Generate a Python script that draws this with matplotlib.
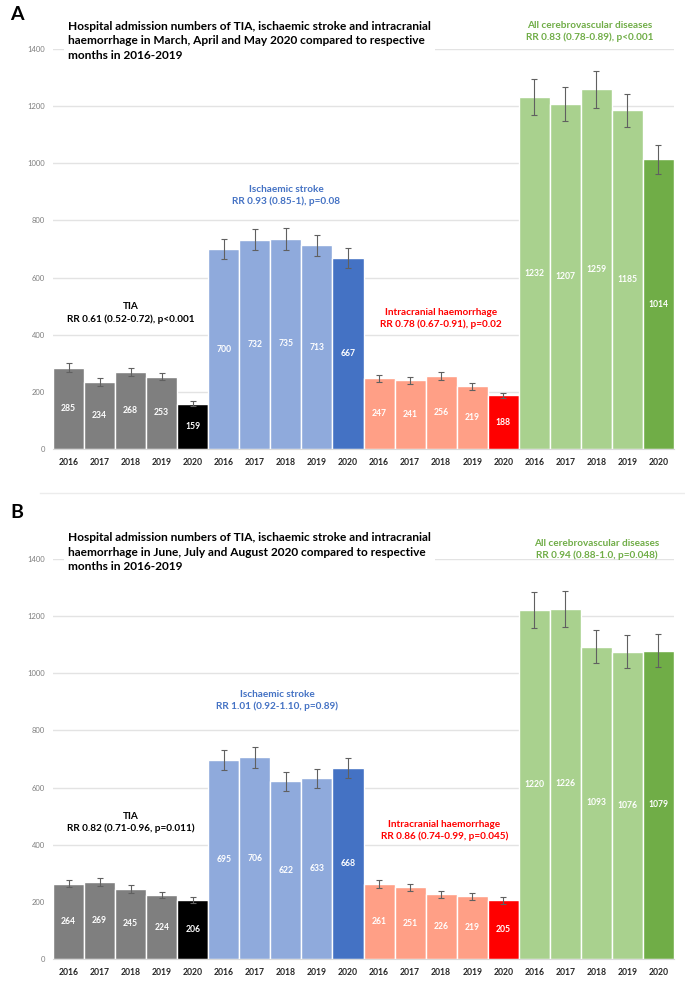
"""Hospital admissions for TIA, ischaemic stroke and intracranial haemorrhage, 2016-2020."""

import matplotlib.pyplot as plt
import numpy as np

plt.rcParams["font.family"] = ["Lato", "DejaVu Sans"]

YEARS = ["2016", "2017", "2018", "2019", "2020"]

# Panel A: March-May
A_TIA = [285, 234, 268, 253, 159]
A_TIA_ERR = [15, 13, 14, 12, 8]
A_ISCH = [700, 732, 735, 713, 667]
A_ISCH_ERR = [35, 37, 37, 37, 35]
A_ICH = [247, 241, 256, 219, 188]
A_ICH_ERR = [12, 12, 13, 12, 9]
A_ALL = [1232, 1207, 1259, 1185, 1014]
A_ALL_ERR = [63, 60, 64, 59, 50]

# Panel B: June-August
B_TIA = [264, 269, 245, 224, 206]
B_TIA_ERR = [13, 14, 13, 12, 11]
B_ISCH = [695, 706, 622, 633, 668]
B_ISCH_ERR = [35, 37, 33, 33, 34]
B_ICH = [261, 251, 226, 219, 205]
B_ICH_ERR = [14, 12, 13, 12, 11]
B_ALL = [1220, 1226, 1093, 1076, 1079]
B_ALL_ERR = [63, 63, 58, 57, 57]

A_TITLE = ("Hospital admission numbers of TIA, ischaemic stroke and intracranial\n"
           "haemorrhage in March, April and May 2020 compared to respective\n"
           "months in 2016-2019")
B_TITLE = ("Hospital admission numbers of TIA, ischaemic stroke and intracranial\n"
           "haemorrhage in June, July and August 2020 compared to respective\n"
           "months in 2016-2019")
A_RR = ["RR 0.61 (0.52-0.72), p<0.001", "RR 0.93 (0.85-1), p=0.08",
        "RR 0.78 (0.67-0.91), p=0.02", "RR 0.83 (0.78-0.89), p<0.001"]
B_RR = ["RR 0.82 (0.71-0.96, p=0.011)", "RR 1.01 (0.92-1.10, p=0.89)",
        "RR 0.86 (0.74-0.99, p=0.045)", "RR 0.94 (0.88-1.0, p=0.048)"]
GROUPS = ["TIA", "Ischaemic stroke", "Intracranial haemorrhage",
          "All cerebrovascular diseases"]

LIGHT = ["#7f7f7f", "#8faadc", "#ff9f86", "#a9d18e"]
DARK = ["#000000", "#4472c4", "#ff0000", "#70ad47"]
TEXT_COLORS = ["#000000", "#4472c4", "#ff0000", "#70ad47"]

def draw_panel(ax, series, errors, rr_labels, label_pos):
    values = np.concatenate(series)
    errs = np.concatenate(errors)
    colors = []
    for light, dark in zip(LIGHT, DARK):
        colors += [light] * 4 + [dark]
    x = np.arange(len(values))

    ax.set_axisbelow(True)
    ax.yaxis.grid(True, color="#e3e3e3", linewidth=1)
    ax.bar(x, values, width=1.0, color=colors, edgecolor="white", linewidth=1.0, zorder=2)
    ax.errorbar(x, values, yerr=errs, fmt="none", ecolor="#606060",
                elinewidth=0.8, capsize=2.2, capthick=0.8, zorder=3)
    for xi, v in zip(x, values):
        ax.text(xi, v / 2, str(v), ha="center", va="center", color="white",
                fontsize=6.2, fontweight="bold", zorder=4)

    ax.set_xlim(-0.5, len(values) - 0.5)
    ax.set_ylim(0, 1400)
    ax.set_yticks(range(0, 1401, 200))
    ax.set_xticks(x)
    ax.set_xticklabels(YEARS * 4, fontsize=6.2, fontweight="bold", color="#262626")
    ax.tick_params(axis="y", labelsize=5.5, labelcolor="#7f7f7f", length=0, pad=6)
    ax.tick_params(axis="x", length=0, pad=6.5)
    for side in ["top", "right", "left"]:
        ax.spines[side].set_visible(False)
    ax.spines["bottom"].set_color("#d9d9d9")

    for name, rr, color, (px, py) in zip(GROUPS, rr_labels, TEXT_COLORS, label_pos):
        ax.text(px, py, name + "\n" + rr, ha="center", va="center", color=color,
                fontsize=7.2, fontweight="bold", linespacing=1.35, clip_on=False, zorder=5)

fig = plt.figure(figsize=(6.85, 9.86), dpi=100)
ax_a = fig.add_axes([53 / 685, 1 - 449 / 986, 621 / 685, 400 / 986])
ax_b = fig.add_axes([53 / 685, 1 - 959 / 986, 621 / 685, 400 / 986])

draw_panel(ax_a, [A_TIA, A_ISCH, A_ICH, A_ALL],
           [A_TIA_ERR, A_ISCH_ERR, A_ICH_ERR, A_ALL_ERR], A_RR,
           [(2, 476), (7, 886), (12, 458), (16.8, 1460)])
draw_panel(ax_b, [B_TIA, B_ISCH, B_ICH, B_ALL],
           [B_TIA_ERR, B_ISCH_ERR, B_ICH_ERR, B_ALL_ERR], B_RR,
           [(2, 477), (6.73, 904), (12.1, 449), (17.0, 1433)])

for title, y in [(A_TITLE, 1 - 41 / 986), (B_TITLE, 1 - 552 / 986)]:
    fig.text(68 / 685, y, title, ha="left", va="center", fontsize=8.6,
             fontweight="bold", color="black", linespacing=1.4,
             bbox=dict(facecolor="white", edgecolor="none", pad=3))

fig.text(10 / 685, 1 - 15 / 986, "A", fontsize=14, fontweight="bold", va="center")
fig.text(10 / 685, 1 - 512 / 986, "B", fontsize=14, fontweight="bold", va="center")
fig.add_artist(plt.Line2D([40 / 685, 1], [1 - 493 / 986] * 2, color="#ececec", linewidth=1))

fig.savefig("out.png", dpi=100)
